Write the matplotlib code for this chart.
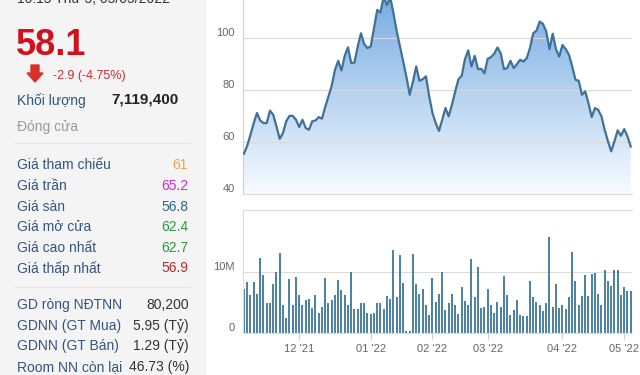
import numpy as np
import matplotlib
matplotlib.use('Agg')
from matplotlib import pyplot as plt
from matplotlib.colors import LinearSegmentedColormap
from matplotlib.patches import Rectangle, Polygon

plt.rcParams['font.family'] = ['Liberation Sans', 'DejaVu Sans']

# daily close price, one per trading day (8 Nov 2021 .. 5 May 2022)
price = [55.5, 58.6, 62.8, 67.3, 71.2, 68.3, 67.3, 67.3, 72.1, 70.5,
         66.0, 61.2, 63.5, 68.0, 70.1, 70.1, 68.6, 65.8, 68.6, 65.4,
         64.7, 68.0, 68.3, 69.6, 69.0, 73.5, 77.6, 81.7, 87.8, 91.3,
         87.6, 93.2, 96.5, 90.4, 90.6, 96.8, 101.9, 97.7, 96.2, 96.8,
         103.8, 110.9, 109.9, 116.0, 112.8, 115.8, 109.6, 102.6, 96.8, 91.0,
         85.0, 78.2, 83.3, 89.1, 83.6, 84.2, 85.3, 77.6, 71.2, 67.3,
         64.3, 68.6, 73.1, 69.9, 74.4, 79.5, 84.2, 85.5, 91.9, 95.3,
         89.1, 93.2, 88.1, 88.2, 86.5, 92.1, 92.7, 94.0, 96.4, 94.2,
         88.1, 88.5, 91.3, 88.5, 90.0, 91.7, 91.0, 92.3, 96.2, 101.9,
         102.9, 106.4, 105.5, 102.6, 95.8, 101.7, 95.8, 92.9, 97.4, 95.8,
         93.6, 89.1, 84.0, 83.6, 78.2, 79.5, 75.0, 69.6, 73.1, 72.4,
         69.9, 64.7, 60.3, 56.4, 60.3, 64.5, 62.4, 65.0, 62.2, 58.3]

# daily volume, millions of shares
volume = [7.2, 8.3, 6.1, 8.3, 6.4, 12.2, 9.5, 4.8, 4.8, 8.0,
          9.9, 13.0, 4.5, 2.5, 8.7, 4.6, 9.1, 6.1, 4.6, 5.4,
          5.5, 4.0, 6.2, 3.2, 4.3, 8.9, 4.9, 5.4, 6.1, 8.6,
          7.0, 6.1, 4.5, 9.9, 3.9, 3.9, 4.9, 4.8, 3.2, 3.1,
          3.3, 4.9, 4.9, 3.9, 6.0, 5.6, 13.5, 5.9, 12.7, 8.2,
          0.4, 0.4, 12.8, 8.0, 6.4, 7.2, 4.5, 2.9, 8.9, 5.1,
          6.4, 9.9, 3.8, 4.8, 6.4, 4.6, 3.1, 7.4, 5.2, 4.6,
          12.1, 5.9, 10.7, 4.0, 4.3, 7.2, 4.5, 3.2, 5.1, 4.2,
          9.3, 6.1, 3.0, 3.7, 5.4, 2.9, 2.7, 2.7, 8.5, 5.8,
          5.0, 4.5, 3.5, 4.8, 15.6, 4.3, 8.0, 4.0, 4.6, 3.9,
          5.8, 13.1, 8.5, 4.6, 6.0, 9.5, 6.0, 9.6, 9.8, 6.4,
          4.6, 10.3, 8.5, 7.7, 10.2, 10.2, 6.2, 7.5, 6.9, 6.9]

month_pos = [17, 39, 58, 75, 98, 117]
month_labels = ["12 '21", "01 '22", "02 '22", "03 '22", "04 '22", "05 '22"]

info_labels = ['Giá tham chiếu', 'Giá trần', 'Giá sàn', 'Giá mở cửa', 'Giá cao nhất', 'Giá thấp nhất']
info_values = ['61', '65.2', '56.8', '62.4', '62.7', '56.9']
info_colors = ['#f0a24a', '#d12ad1', '#2d6689', '#2e9a3a', '#2e9a3a', '#c0282e']

foreign_labels = ['GD ròng NĐTNN', 'GDNN (GT Mua)', 'GDNN (GT Bán)', 'Room NN còn lại']
foreign_values = ['80,200', '5.95 (Tỷ)', '1.29 (Tỷ)', '46.73 (%)']

W, H = 640, 375
fig = plt.figure(figsize=(W / 100, H / 100), dpi=100)

def fx(x):
    return x / W

def fy(y):
    return 1 - y / H

# left info panel
fig.patches.append(Rectangle((0, 0), fx(205), 1, transform=fig.transFigure,
                             color='#f4f4f4', zorder=0))
lab_col = '#34557f'
fig.text(fx(17), fy(3), '10:15 Thứ 5, 05/05/2022', fontsize=10, color='#333333')
fig.text(fx(16), fy(55), '58.1', fontsize=26, fontweight='bold', color='#d0111b')
fig.patches.append(Polygon([(fx(31), fy(65)), (fx(39), fy(65)), (fx(39), fy(73)),
                            (fx(43), fy(73)), (fx(35), fy(82)), (fx(27), fy(73)),
                            (fx(31), fy(73))], closed=True, transform=fig.transFigure,
                           color='#d9302c'))
fig.text(fx(53), fy(79), '-2.9 (-4.75%)', fontsize=9, color='#d42a2a')
fig.text(fx(17), fy(105), 'Khối lượng', fontsize=10, color=lab_col)
fig.text(fx(111), fy(104), '7,119,400', fontsize=11, fontweight='bold', color='#222222')
fig.text(fx(17), fy(131), 'Đóng cửa', fontsize=10, color='#9a9a9a')
for ysep in [143, 287]:
    fig.add_artist(plt.Line2D([fx(15), fx(190)], [fy(ysep), fy(ysep)],
                              transform=fig.transFigure, color='#e4e4e4', lw=0.8))
for i, (lab, val, col) in enumerate(zip(info_labels, info_values, info_colors)):
    yb = 169.5 + i * 20.6
    fig.text(fx(17), fy(yb), lab, fontsize=10, color=lab_col)
    fig.text(fx(188), fy(yb), val, fontsize=10, color=col, ha='right')
for i, (lab, val) in enumerate(zip(foreign_labels, foreign_values)):
    yb = 309 + i * 20.7
    fig.text(fx(17), fy(yb), lab, fontsize=10, color=lab_col)
    fig.text(fx(189), fy(yb), val, fontsize=10, color='#333333', ha='right')

x = np.arange(len(price))
xlim = (-0.3, 119.4)
tick_col = '#666666'

# price chart
ax_p = fig.add_axes([fx(243), fy(194), fx(632) - fx(243), fy(0) - fy(194)])
ax_p.set_xlim(*xlim)
ax_p.set_ylim(40, 114.7)
poly = ax_p.fill_between(x, price, 40, color='none', lw=0)
cmap = LinearSegmentedColormap.from_list('g', ['#f7fbff', '#7aade3'])
grad = np.linspace(0, 1, 256).reshape(-1, 1)
im = ax_p.imshow(grad, extent=[xlim[0], xlim[1], 40, 114.7], origin='lower',
                 aspect='auto', cmap=cmap, zorder=1)
im.set_clip_path(poly.get_paths()[0], transform=ax_p.transData)
for v in [60, 80, 100]:
    ax_p.axhline(v, color='#d9d9d9', lw=0.8, zorder=2)
ax_p.plot(x, price, color='#3f7296', lw=1.6, zorder=3)
ax_p.set_yticks([40, 60, 80, 100])
ax_p.set_xticks([])
ax_p.tick_params(axis='y', length=0, pad=6, labelsize=8, labelcolor=tick_col)
for t in ax_p.get_yticklabels():
    t.set_va('bottom')
for s in ['top', 'right']:
    ax_p.spines[s].set_visible(False)
ax_p.spines['left'].set_color('#d0d0d0')
ax_p.spines['bottom'].set_color('#dcdcdc')
ax_p.patch.set_alpha(0)

# volume chart
ax_v = fig.add_axes([fx(243), fy(333), fx(632) - fx(243), fy(210) - fy(333)])
ax_v.set_xlim(*xlim)
ax_v.set_ylim(0, 20)
ax_v.axhline(10, color='#dcdcdc', lw=0.8, zorder=0)
ax_v.bar(x, volume, width=0.6, color='#4d84a4', zorder=2)
ax_v.set_yticks([0, 10])
ax_v.set_yticklabels(['0', '10M'])
ax_v.tick_params(axis='y', length=0, pad=6, labelsize=8, labelcolor=tick_col)
for t in ax_v.get_yticklabels():
    t.set_va('bottom')
ax_v.set_xticks(month_pos)
ax_v.set_xticklabels(month_labels)
ax_v.tick_params(axis='x', length=4, color='#cccccc', pad=4, labelsize=8, labelcolor=tick_col)
ax_v.spines['right'].set_visible(False)
for s in ['top', 'left', 'bottom']:
    ax_v.spines[s].set_color('#dcdcdc')

fig.savefig('out.png', dpi=100)
